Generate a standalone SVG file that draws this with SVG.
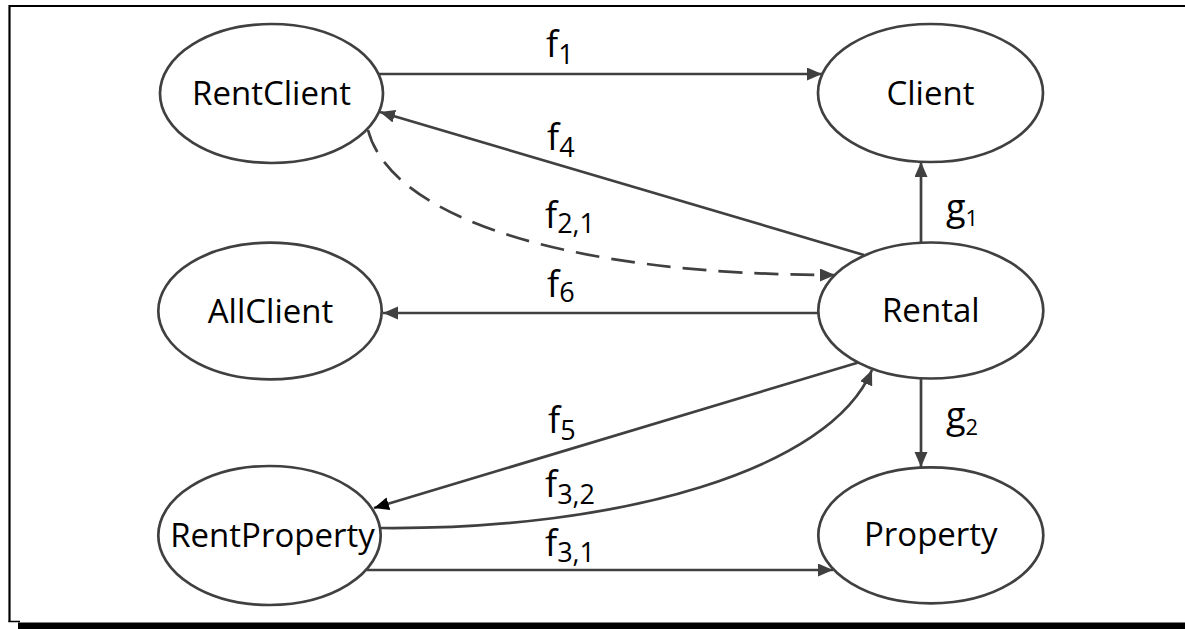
<svg xmlns="http://www.w3.org/2000/svg" width="1185" height="629" viewBox="0 0 1185 629">
<style>
.node ellipse{fill:#fff;stroke:#404040;stroke-width:2.7}
.node text{font-family:"Open Sans","Noto Sans","Liberation Sans",sans-serif;font-size:33px;fill:#000;text-anchor:middle}
.c{fill:none;stroke:#404040;stroke-width:2.7}
.lbl{font-family:"Open Sans","Noto Sans","Liberation Sans",sans-serif;font-size:36px;fill:#000}
.sub{font-size:27px}
.gsub{font-size:22px}
</style>
<defs>
<marker id="ah" markerUnits="userSpaceOnUse" markerWidth="16" markerHeight="14" refX="15" refY="6.5" orient="auto" viewBox="0 0 16 14">
<path d="M0,0 L15,6.5 L0,13 z" fill="#404040"/>
</marker>
<marker id="ahb" markerUnits="userSpaceOnUse" markerWidth="16" markerHeight="14" refX="15" refY="6.5" orient="auto" viewBox="0 0 16 14">
<path d="M0,0 L15,6.5 L0,13 z" fill="#000"/>
</marker>
</defs>
<rect width="1185" height="629" fill="#fff"/>
<g id="frame">
<line x1="9.5" y1="6" x2="1185" y2="6" stroke="#000" stroke-width="2.2"/>
<line x1="9.5" y1="5" x2="9.5" y2="622" stroke="#000" stroke-width="2.2"/>
<line x1="8.5" y1="621.5" x2="20" y2="621.5" stroke="#000" stroke-width="1.5"/>
<rect x="18" y="622.5" width="1167" height="6.5" fill="#000"/>
</g>
<g id="connectors">
<line class="c" x1="378" y1="74" x2="822" y2="74" marker-end="url(#ah)"/>
<line class="c" x1="864" y1="255" x2="380" y2="112" marker-end="url(#ah)"/>
<path class="c" d="M368,130 C390,215 560,275 835,275" stroke-dasharray="24,12" marker-end="url(#ah)"/>
<line class="c" x1="822" y1="313" x2="383" y2="313" marker-end="url(#ah)"/>
<line class="c" x1="921" y1="242" x2="921" y2="162" marker-end="url(#ah)"/>
<line class="c" x1="921" y1="379" x2="921" y2="467" marker-end="url(#ah)"/>
<line class="c" x1="860" y1="362" x2="374" y2="508" stroke="#000" stroke-width="3" marker-end="url(#ahb)"/>
<path class="c" d="M381,528 C620,530 830,470 872,370" marker-end="url(#ah)"/>
<line class="c" x1="367" y1="570" x2="833" y2="570" marker-end="url(#ah)"/>
</g>
<g id="labels">
<text class="lbl" x="546" y="57">f<tspan class="sub" dy="7">1</tspan></text>
<text class="lbl" x="547" y="150">f<tspan class="sub" dy="7">4</tspan></text>
<text class="lbl" x="545" y="228">f<tspan class="sub" dy="5">2,1</tspan></text>
<text class="lbl" x="547" y="297">f<tspan class="sub" dy="5">6</tspan></text>
<text class="lbl" x="548" y="433">f<tspan class="sub" dy="7">5</tspan></text>
<text class="lbl" x="545" y="497">f<tspan class="sub" dy="7">3,2</tspan></text>
<text class="lbl" x="545" y="556">f<tspan class="sub" dy="6">3,1</tspan></text>
<text class="lbl" x="946" y="220">g<tspan class="gsub" dy="6">1</tspan></text>
<text class="lbl" x="946" y="428">g<tspan class="gsub" dy="7">2</tspan></text>
</g>
<g id="RentClient" class="node"><ellipse cx="271.5" cy="93.5" rx="111.5" ry="69.5"/><text x="271.5" y="105">RentClient</text></g>
<g id="Client" class="node"><ellipse cx="930.5" cy="93" rx="112.5" ry="69"/><text x="930.5" y="105">Client</text></g>
<g id="AllClient" class="node"><ellipse cx="270" cy="311" rx="111.7" ry="68.3"/><text x="270.5" y="322.5">AllClient</text></g>
<g id="Rental" class="node"><ellipse cx="930.8" cy="310.5" rx="112.5" ry="68"/><text x="930.8" y="322.3">Rental</text></g>
<g id="RentProperty" class="node"><ellipse cx="269.5" cy="535.5" rx="111.2" ry="69.5"/><text x="272.5" y="547.3">RentProperty</text></g>
<g id="Property" class="node"><ellipse cx="930.8" cy="535.3" rx="112.5" ry="68"/><text x="930.8" y="545.7">Property</text></g>
</svg>
